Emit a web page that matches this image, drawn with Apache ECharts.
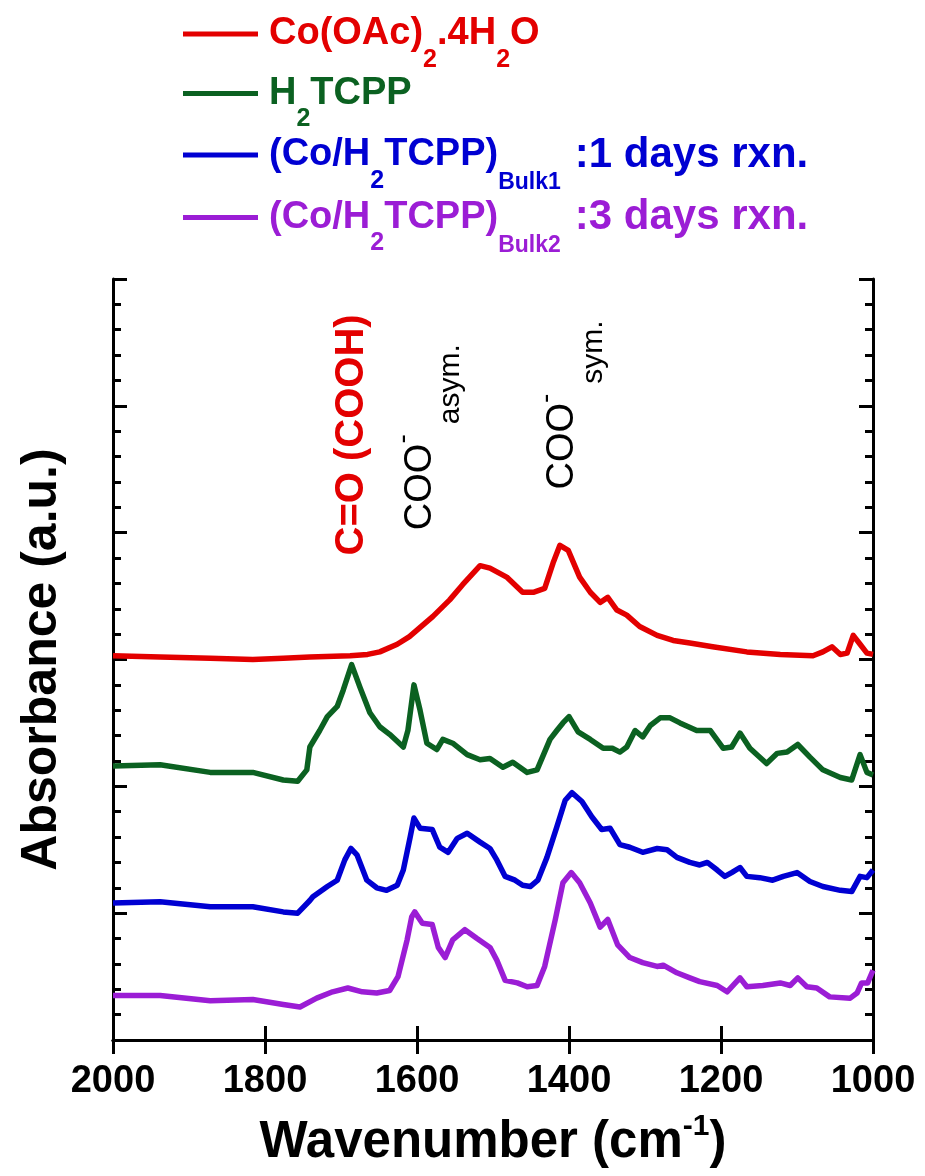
<!DOCTYPE html>
<html>
<head>
<meta charset="utf-8">
<script src="https://cdn.jsdelivr.net/npm/echarts@6/dist/echarts.min.js"></script>
<style>
html, body { margin: 0; padding: 0; background: #fff; }
#chart { width: 925px; height: 1176px; }
</style>
</head>
<body>
<div id="chart"></div>
<script>
// FTIR spectra, stacked (offset) absorbance vs wavenumber
var seriesNames = ['Co(OAc)2.4H2O', 'H2TCPP', 'Bulk1', 'Bulk2'];
var seriesColors = ['#e30000', '#0b6121', '#0000d2', '#9b1dd5'];

var wnRed = [2000, 1938, 1872, 1816, 1776, 1741, 1688, 1665, 1649, 1626, 1610, 1579, 1557, 1540, 1517, 1504, 1482, 1461, 1447, 1432, 1421, 1412, 1401, 1386, 1372, 1359, 1349, 1337, 1324, 1307, 1284, 1263, 1241, 1211, 1166, 1122, 1079, 1066, 1054, 1043, 1034, 1026, 1017, 1008, 1000];
var absRed = [3.03, 3.02, 3.01, 3.00, 3.01, 3.02, 3.03, 3.04, 3.06, 3.12, 3.18, 3.34, 3.47, 3.59, 3.74, 3.72, 3.65, 3.53, 3.53, 3.56, 3.76, 3.90, 3.86, 3.65, 3.53, 3.45, 3.49, 3.39, 3.35, 3.26, 3.19, 3.15, 3.13, 3.10, 3.06, 3.04, 3.03, 3.06, 3.10, 3.04, 3.05, 3.19, 3.12, 3.05, 3.04];

var wnGreen = [2000, 1938, 1872, 1816, 1776, 1757, 1745, 1741, 1728, 1718, 1705, 1697, 1686, 1675, 1662, 1649, 1636, 1618, 1612, 1604, 1596, 1587, 1574, 1566, 1553, 1534, 1517, 1504, 1487, 1474, 1455, 1442, 1425, 1416, 1408, 1400, 1388, 1372, 1355, 1343, 1333, 1324, 1313, 1303, 1293, 1280, 1267, 1254, 1232, 1214, 1197, 1186, 1175, 1162, 1140, 1126, 1113, 1099, 1083, 1066, 1043, 1028, 1017, 1008, 1000];
var absGreen = [2.16, 2.17, 2.11, 2.11, 2.05, 2.04, 2.13, 2.31, 2.44, 2.55, 2.63, 2.76, 2.96, 2.78, 2.58, 2.47, 2.41, 2.31, 2.44, 2.80, 2.60, 2.34, 2.29, 2.37, 2.34, 2.25, 2.21, 2.22, 2.15, 2.19, 2.11, 2.13, 2.37, 2.44, 2.50, 2.55, 2.43, 2.37, 2.30, 2.30, 2.27, 2.31, 2.44, 2.39, 2.48, 2.54, 2.54, 2.50, 2.44, 2.44, 2.30, 2.31, 2.42, 2.30, 2.18, 2.26, 2.27, 2.33, 2.23, 2.13, 2.07, 2.05, 2.25, 2.11, 2.09];

var wnBlue = [2000, 1938, 1872, 1816, 1776, 1757, 1741, 1737, 1718, 1705, 1695, 1687, 1679, 1666, 1653, 1640, 1626, 1618, 1609, 1604, 1596, 1580, 1570, 1559, 1547, 1534, 1517, 1504, 1495, 1484, 1471, 1461, 1451, 1441, 1429, 1416, 1405, 1396, 1383, 1370, 1357, 1346, 1333, 1320, 1303, 1284, 1271, 1258, 1241, 1228, 1218, 1205, 1195, 1186, 1175, 1166, 1149, 1132, 1118, 1100, 1083, 1066, 1043, 1028, 1017, 1008, 1000];
var absBlue = [1.08, 1.09, 1.05, 1.05, 1.01, 1.00, 1.10, 1.13, 1.21, 1.26, 1.42, 1.51, 1.46, 1.26, 1.20, 1.18, 1.22, 1.34, 1.60, 1.75, 1.67, 1.66, 1.52, 1.48, 1.59, 1.63, 1.56, 1.51, 1.42, 1.29, 1.26, 1.22, 1.21, 1.26, 1.44, 1.68, 1.89, 1.95, 1.88, 1.76, 1.66, 1.67, 1.54, 1.52, 1.48, 1.51, 1.50, 1.44, 1.40, 1.38, 1.40, 1.34, 1.29, 1.32, 1.36, 1.29, 1.28, 1.26, 1.29, 1.32, 1.25, 1.21, 1.18, 1.17, 1.29, 1.28, 1.34];

var wnPurple = [2000, 1938, 1872, 1816, 1776, 1754, 1732, 1711, 1691, 1672, 1653, 1636, 1625, 1613, 1607, 1603, 1593, 1580, 1572, 1563, 1553, 1537, 1521, 1504, 1495, 1484, 1468, 1455, 1442, 1432, 1418, 1408, 1397, 1386, 1372, 1359, 1349, 1336, 1320, 1303, 1284, 1276, 1258, 1241, 1228, 1205, 1192, 1175, 1166, 1145, 1122, 1109, 1099, 1087, 1074, 1057, 1030, 1021, 1015, 1007, 1000];
var absPurple = [0.35, 0.35, 0.31, 0.32, 0.28, 0.26, 0.33, 0.38, 0.41, 0.38, 0.37, 0.39, 0.50, 0.79, 0.97, 1.01, 0.92, 0.91, 0.73, 0.65, 0.79, 0.87, 0.80, 0.73, 0.63, 0.47, 0.45, 0.42, 0.43, 0.58, 0.95, 1.24, 1.32, 1.24, 1.08, 0.89, 0.95, 0.75, 0.65, 0.61, 0.58, 0.59, 0.53, 0.49, 0.46, 0.43, 0.38, 0.49, 0.42, 0.43, 0.45, 0.43, 0.49, 0.42, 0.41, 0.34, 0.33, 0.37, 0.45, 0.45, 0.55];

var xTicks = [2000, 1800, 1600, 1400, 1200, 1000];

var FONT = "'Liberation Sans', Arial, sans-serif";

function pairs(xs, ys) {
    var out = [];
    for (var i = 0; i < xs.length; i++) {
        out.push([xs[i], ys[i]]);
    }
    return out;
}

var seriesData = [
    pairs(wnRed, absRed),
    pairs(wnGreen, absGreen),
    pairs(wnBlue, absBlue),
    pairs(wnPurple, absPurple)
];

var legendLabels = {
    'Co(OAc)2.4H2O': 'Co(OAc){s|2}.4H{s|2}O',
    'H2TCPP': 'H{s|2}TCPP',
    'Bulk1': '(Co/H{s|2}TCPP){b|Bulk1}{w|:1 days rxn.}',
    'Bulk2': '(Co/H{s|2}TCPP){b|Bulk2}{w|:3 days rxn.}'
};

var frameAxis = {
    axisLine: { show: true, lineStyle: { color: '#000', width: 3 } },
    splitLine: { show: false }
};

var option = {
    animation: false,
    backgroundColor: '#fff',
    grid: { left: 113, right: 52, top: 279, bottom: 136 },
    legend: {
        orient: 'vertical',
        left: 183,
        top: 15,
        padding: 0,
        icon: 'rect',
        itemWidth: 75,
        itemHeight: 5,
        itemGap: 2,
        selectedMode: false,
        formatter: function (name) { return legendLabels[name]; },
        textStyle: {
            fontFamily: FONT,
            fontSize: 38,
            fontWeight: 'bold',
            padding: [0, 0, 0, 6],
            rich: {
                s: { fontFamily: FONT, fontSize: 25, fontWeight: 'bold', padding: [52, 0, 0, 0] },
                b: { fontFamily: FONT, fontSize: 23, fontWeight: 'bold', padding: [56, 0, 0, 0] },
                w: { fontFamily: FONT, fontSize: 42, fontWeight: 'bold', padding: [0, 0, 0, 14] }
            }
        },
        data: seriesNames.map(function (n, i) {
            return { name: n, textStyle: { color: seriesColors[i] } };
        })
    },
    xAxis: [
        Object.assign({}, frameAxis, {
            type: 'value', position: 'bottom', min: 1000, max: 2000, interval: 200, inverse: true,
            axisTick: { inside: true, length: 14, lineStyle: { color: '#000', width: 3 } },
            axisLabel: {
                margin: 23, color: '#000', fontFamily: FONT, fontSize: 38, fontWeight: 'bold',
                formatter: function (v) { return xTicks.indexOf(v) >= 0 ? String(v) : ''; }
            },
            name: 'Wavenumber (cm{sup|-1})',
            nameLocation: 'middle',
            nameGap: 72,
            nameTextStyle: {
                color: '#000', fontFamily: FONT, fontSize: 51, fontWeight: 'bold',
                rich: { sup: { fontFamily: FONT, fontSize: 30, fontWeight: 'bold', color: '#000', padding: [0, 0, 32, 0] } }
            }
        }),
        Object.assign({}, frameAxis, {
            type: 'value', position: 'top', min: 1000, max: 2000, interval: 200, inverse: true,
            axisTick: { inside: true, length: 14, lineStyle: { color: '#000', width: 3 } },
            axisLabel: { show: false }
        })
    ],
    yAxis: [
        Object.assign({}, frameAxis, {
            type: 'value', position: 'left', min: 0, max: 6, interval: 1,
            axisTick: { inside: true, length: 14, lineStyle: { color: '#000', width: 3 } },
            minorTick: { show: true, splitNumber: 5, length: 8, lineStyle: { color: '#000', width: 3 } },
            axisLabel: { show: false },
            name: 'Absorbance (a.u.)',
            nameLocation: 'middle',
            nameGap: 46,
            nameTextStyle: { color: '#000', fontFamily: FONT, fontSize: 50, fontWeight: 'bold' }
        }),
        Object.assign({}, frameAxis, {
            type: 'value', position: 'right', min: 0, max: 6, interval: 1,
            axisTick: { inside: true, length: 14, lineStyle: { color: '#000', width: 3 } },
            minorTick: { show: true, splitNumber: 5, length: 8, lineStyle: { color: '#000', width: 3 } },
            axisLabel: { show: false }
        })
    ],
    series: seriesNames.map(function (n, i) {
        return {
            name: n,
            type: 'line',
            data: seriesData[i],
            color: seriesColors[i],
            showSymbol: false,
            clip: false,
            lineStyle: { width: 5.5, color: seriesColors[i], join: 'round' },
            z: 3
        };
    })
};

var chart = echarts.init(document.getElementById('chart'));
chart.setOption(option);

// rotated peak assignments, anchored in data coordinates
function rotatedLabel(wn, v, text, fill, size, weight, rich) {
    var p = chart.convertToPixel({ gridIndex: 0 }, [wn, v]);
    return {
        type: 'text',
        x: p[0],
        y: p[1],
        rotation: Math.PI / 2,
        z: 10,
        style: {
            text: text,
            fill: fill,
            fontFamily: FONT,
            fontSize: size,
            fontWeight: weight,
            align: 'left',
            verticalAlign: 'middle',
            rich: rich || {}
        }
    };
}

var cooRich = {
    sup: { fontFamily: FONT, fontSize: 28, fill: '#000', padding: [0, 0, 34, 0] },
    sub: { fontFamily: FONT, fontSize: 30, fill: '#000', padding: [62, 0, 0, 10] }
};

chart.setOption({
    graphic: [
        rotatedLabel(1685, 3.82, 'C=O (COOH)', '#e30000', 40, 'bold'),
        rotatedLabel(1596, 4.02, 'COO{sup|-}{sub|asym.}', '#000', 38, 'normal', cooRich),
        rotatedLabel(1408, 4.34, 'COO{sup|-}{sub|sym.}', '#000', 38, 'normal', cooRich)
    ]
});
</script>
</body>
</html>
